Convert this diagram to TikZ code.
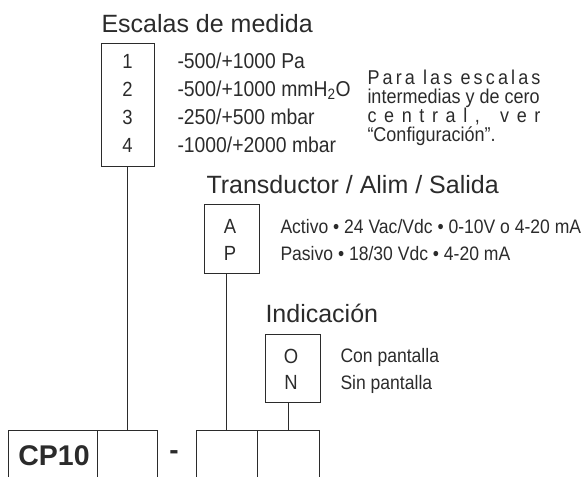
\documentclass[tikz,border=0pt]{standalone}
\usepackage{fontspec}
\setmainfont{Liberation Sans}
\newfontfamily\estrecha{Liberation Sans}[FakeStretch=0.9]
\usepackage{tikz}
\definecolor{tinta}{HTML}{2B2B2B}
\newcommand{\ls}{\hspace{0pt plus 1fil}}
\tikzset{
  titulo/.style={anchor=base west,inner sep=0pt,text=tinta,font=\fontsize{25}{25}\selectfont},
  caja/.style={draw=tinta,anchor=north west,outer sep=0pt,inner sep=0pt},
  celda/.style={draw=tinta,anchor=north west,outer sep=0pt,inner sep=0pt,minimum height=60pt},
  letra/.style={anchor=base,inner sep=0pt,text=tinta,font=\estrecha\fontsize{20.5}{20.5}\selectfont},
  texto/.style={anchor=base west,inner sep=0pt,text=tinta,font=\estrecha\fontsize{#1}{#1}\selectfont},
  texto/.default=19.5
}

\begin{document}
\begin{tikzpicture}[x=1pt,y=-1pt,line width=1pt]
\clip (0,0) rectangle (582,477);

% escalas de medida
\node[titulo] (tesc) at (101,32) {Escalas de medida};
\node[caja,minimum width=53pt,minimum height=123pt] (esc) at (101,43) {};
\foreach \n/\t [count=\i] in {1/{-500/+1000 Pa},2/{-500/+1000 mmH\textsubscript{2}O},3/{-250/+500 mbar},4/{-1000/+2000 mbar}}{
  \node[letra] (n\n) at (127.5,{40+28*\i}) {\n};
  \node[texto=21.5] (e\n) at (177,{40+28*\i}) {\t};
}
% base = ultima linea
\node[anchor=base west,inner sep=0pt,text=tinta,align=left,
  font=\estrecha\fontsize{20}{18.2}\selectfont] (nota) at (367,141)
  {\makebox[173pt][s]{P\ls a\ls r\ls a\ \ls l\ls a\ls s\ \ls e\ls s\ls c\ls a\ls l\ls a\ls s}\\
   intermedias y de cero\\
   \makebox[173pt][s]{c\ls e\ls n\ls t\ls r\ls a\ls l\ls ,\ \ls\ls v\ls e\ls r}\\
   “Configuración”.};

% transductor
\node[titulo] (ttra) at (206,193) {Transductor / Alim / Salida};
\node[caja,minimum width=55pt,minimum height=69pt] (ap) at (204,204) {};
\node[letra] (la) at (230,233) {A};
\node[letra] (lp) at (230,260) {P};
\node[texto] (activo) at (280,233) {Activo \textbullet\ 24 Vac/Vdc \textbullet\ 0-10V o 4-20 mA};
\node[texto] (pasivo) at (280,260) {Pasivo \textbullet\ 18/30 Vdc \textbullet\ 4-20 mA};

% indicacion
\node[titulo] (tind) at (265,322) {Indicación};
\node[caja,minimum width=55pt,minimum height=68pt] (on) at (265,334) {};
\node[letra] (lo) at (291,363) {O};
\node[letra] (ln) at (291,389) {N};
\node[texto] (con) at (340,362) {Con pantalla};
\node[texto] (sin) at (340,389) {Sin pantalla};

% codigo
\node[celda,minimum width=89pt] (c0) at (8,430) {};
\node[celda,minimum width=60pt] (c1) at (97,430) {};
\node[celda,minimum width=61pt] (c2) at (196,430) {};
\node[celda,minimum width=62pt] (c3) at (257,430) {};
\node[anchor=base,inner sep=0pt,text=tinta,font=\bfseries\fontsize{28.5}{28.5}\selectfont] (cp) at (54,465) {CP10};
\node[anchor=base,inner sep=0pt,text=tinta,font=\bfseries\fontsize{28}{28}\selectfont] (guion) at (174,459.5) {-};

\draw[tinta] (c1.north) -- (c1.north |- esc.south);
\draw[tinta] (c2.north) -- (c2.north |- ap.south);
\draw[tinta] (c3.north) -- (c3.north |- on.south);
\end{tikzpicture}
\end{document}
